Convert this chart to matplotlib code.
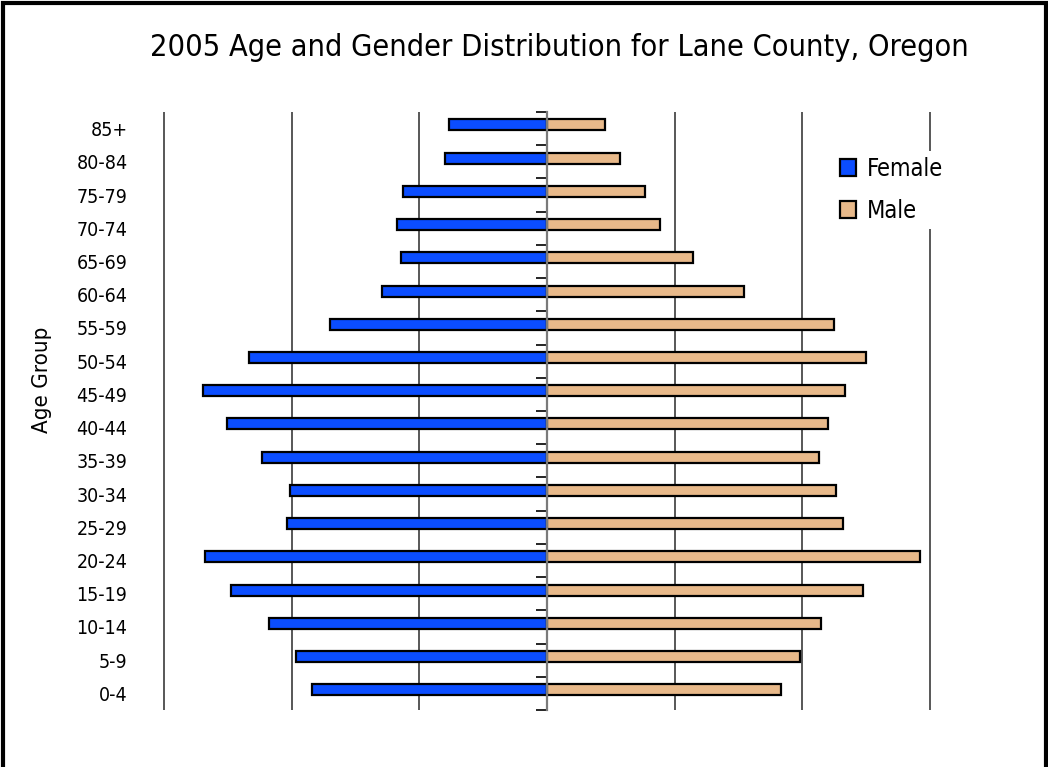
import os
import matplotlib
matplotlib.use("Agg")
import matplotlib.pyplot as plt
import numpy as np
from matplotlib import font_manager as fm
from matplotlib.patches import Rectangle

age_groups = ['0-4', '5-9', '10-14', '15-19', '20-24', '25-29', '30-34', '35-39',
              '40-44', '45-49', '50-54', '55-59', '60-64', '65-69', '70-74',
              '75-79', '80-84', '85+']
female = [9220, 9830, 10870, 12370, 13410, 10200, 10050, 11170,
          12530, 13490, 11690, 8480, 6460, 5700, 5860, 5640, 3980, 3830]
male = [9150, 9900, 10720, 12370, 14620, 11610, 11320, 10640,
        11020, 11690, 12510, 11240, 7720, 5700, 4430, 3830, 2860, 2270]
grid_x = [-15000, -10000, -5000, 5000, 10000, 15000]


def narrow_font():
    # look for a condensed sans face, the reference uses a narrow font
    prefs = ['LiberationSansNarrow-Regular', 'DejaVuSansCondensed.ttf',
             'NotoSans-CondensedLight', 'NotoSans-Condensed.', 'NotoSans-ExtraCondensed.',
             'RobotoCondensed-Light', 'RobotoCondensed-Regular', 'Roboto_Condensed',
             'OpenSans_Condensed', 'OpenSans-CondensedLight', 'OpenSans-Condensed']
    fonts = fm.fontManager.ttflist
    for p in prefs:
        for f in fonts:
            if p in os.path.basename(f.fname):
                return f
    for f in fonts:
        b = os.path.basename(f.fname)
        if ('Condensed' in b or 'Narrow' in b) and 'Bold' not in b and 'Italic' not in b:
            return f
    return None


entry = narrow_font()
if entry is not None:
    plt.rcParams['font.family'] = [entry.name, 'DejaVu Sans']
    plt.rcParams['font.stretch'] = entry.stretch
    plt.rcParams['font.weight'] = entry.weight
    plt.rcParams['font.style'] = entry.style

fig = plt.figure(figsize=(10.48, 7.67), dpi=100)
W, H = 1048, 767
pad = 100
ppu = 766 / 30000
ax_left = 164 - pad * ppu
ax_w = 766 + 2 * pad * ppu
ax = fig.add_axes([ax_left / W, 1 - 710 / H, ax_w / W, 598 / H])

y = np.arange(len(age_groups))
off = 0.11
ax.barh(y + off, [-v for v in female], height=0.33, color='#0b4dff',
        edgecolor='black', linewidth=1.6, label='Female', zorder=3)
ax.barh(y + off, male, height=0.33, color='#e8b98a',
        edgecolor='black', linewidth=1.6, label='Male', zorder=3)

ax.set_xlim(-15000 - pad, 15000 + pad)
ax.set_ylim(-0.5, len(age_groups) - 0.5)

ax.set_xticks(grid_x)
ax.set_xticklabels([])
ax.tick_params(axis='x', length=0)
ax.grid(axis='x', color='#2a2a2a', linewidth=1.1, zorder=0)

ax.set_yticks(y)
ax.set_yticklabels(age_groups)
ax.set_yticks(np.arange(-0.5, len(age_groups), 1), minor=True)
ax.tick_params(axis='y', which='major', left=False, right=False, pad=21,
               labelsize=14)
ax.tick_params(axis='y', which='minor', left=False, right=True,
               direction='in', length=8, width=1.2, color='black')

for s in ['top', 'bottom', 'left']:
    ax.spines[s].set_visible(False)
ax.spines['right'].set_position(('data', 0))
ax.spines['right'].set_color('#7a7a7a')
ax.spines['right'].set_linewidth(1.6)
ax.spines['right'].set_zorder(4)

ax.set_ylabel('Age Group', fontsize=16, va='center')
ax.yaxis.set_label_coords((42 - ax_left) / ax_w, (710 - 380) / 598)

fig.text(0.534, 1 - 47 / H, '2005 Age and Gender Distribution for Lane County, Oregon',
         ha='center', va='center', fontsize=22)

leg = ax.legend(loc='upper left', bbox_to_anchor=(834 / W, 1 - 151 / H),
                bbox_transform=fig.transFigure, fontsize=17, frameon=True,
                fancybox=False, edgecolor='none', facecolor='white', framealpha=1,
                handlelength=0.7, handleheight=0.7, handletextpad=0.45,
                labelspacing=0.75, borderpad=0.25, borderaxespad=0)
leg.set_zorder(5)

fig.add_artist(Rectangle((2.5 / W, -0.1), (W - 5) / W, 1.1 - 2.5 / H,
                         transform=fig.transFigure, fill=False,
                         edgecolor='black', linewidth=3, clip_on=False))

fig.savefig('out.png', dpi=100)
